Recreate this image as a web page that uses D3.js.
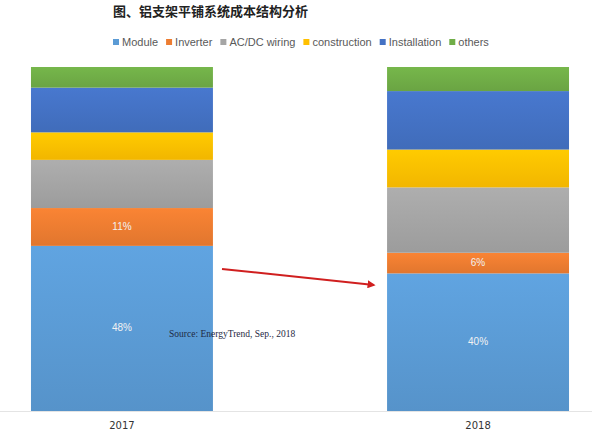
<!DOCTYPE html>
<html>
<head>
<meta charset="utf-8">
<script src="https://cdn.jsdelivr.net/npm/d3@7"></script>
<style>
  html, body { margin: 0; padding: 0; background: #fff; }
  svg { display: block; }
</style>
</head>
<body>
<svg id="chart" width="600" height="442"></svg>
<script>
// chart data
const years = ["2017", "2018"];
const seriesKeys = ["Module", "Inverter", "AC/DC wiring", "construction", "Installation", "others"];
const module2017 = 48, module2018 = 40;
const inverter = [11, 6];
const wiring = [14, 19];
const construction = [8, 11];
const installation = [13, 17];
const others = [6, 7];
const shownLabels = ["Module", "Inverter"]; // only these have visible % labels

const colors = {
    "Module": "#5b9bd5",
    "Inverter": "#ed7d31",
    "AC/DC wiring": "#a5a5a5",
    "construction": "#ffc000",
    "Installation": "#4472c4",
    "others": "#70ad47",
};

const rows = years.map((yr, i) => ({
    year: yr,
    "Module": [module2017, module2018][i],
    "Inverter": inverter[i],
    "AC/DC wiring": wiring[i],
    "construction": construction[i],
    "Installation": installation[i],
    "others": others[i],
}));

const width = 600;
const height = 442;
const marginTop = 67;
const marginBottom = 31;

const svg = d3.select("#chart");

// gradients, bars are a bit lighter on top
const defs = svg.append("defs");
seriesKeys.forEach((k, i) => {
    const c = d3.color(colors[k]);
    const g = defs.append("linearGradient")
        .attr("id", "grad" + i)
        .attr("x1", 0).attr("y1", 0).attr("x2", 0).attr("y2", 1);
    g.append("stop").attr("offset", "0%").attr("stop-color", c.brighter(0.15));
    g.append("stop").attr("offset", "100%").attr("stop-color", c.darker(0.15));
});

const x = d3.scaleBand()
    .domain(years)
    .range([0, width])
    .paddingInner(0.489)
    .paddingOuter(0.087);

const y = d3.scaleLinear()
    .domain([0, 100])
    .range([height - marginBottom, marginTop]);

const stacked = d3.stack().keys(seriesKeys)(rows);

// title
svg.append("text")
    .attr("x", 113).attr("y", 16)
    .attr("font-family", "'Noto Sans CJK SC', sans-serif")
    .attr("font-size", 13)
    .attr("font-weight", "bold")
    .attr("fill", "#222")
    .text("图、铝支架平铺系统成本结构分析");

// legend
const legend = svg.append("g")
    .attr("transform", "translate(113,43)")
    .attr("font-family", "'Liberation Sans', sans-serif")
    .attr("font-size", 11)
    .attr("fill", "#595959");
let lx = 0;
seriesKeys.forEach((k, i) => {
    const item = legend.append("g").attr("transform", `translate(${lx},0)`);
    item.append("rect")
        .attr("x", 0).attr("y", -4)
        .attr("width", 6).attr("height", 6)
        .attr("fill", colors[k]);
    const t = item.append("text")
        .attr("x", 9).attr("y", 0)
        .attr("dominant-baseline", "middle")
        .text(k);
    lx += 9 + t.node().getComputedTextLength() + 8;
});

// axis line
svg.append("line")
    .attr("x1", 0).attr("x2", 592)
    .attr("y1", y(0) + 0.5).attr("y2", y(0) + 0.5)
    .attr("stroke", "#e4e4e4");

// bars
svg.append("g")
    .selectAll("g")
    .data(stacked)
    .join("g")
    .attr("fill", (d, i) => `url(#grad${i})`)
    .selectAll("rect")
    .data(d => d)
    .join("rect")
    .attr("x", d => x(d.data.year))
    .attr("y", d => y(d[1]))
    .attr("height", d => y(d[0]) - y(d[1]))
    .attr("width", x.bandwidth());

// % labels
svg.append("g")
    .attr("font-family", "'Liberation Sans', sans-serif")
    .attr("font-size", 10)
    .attr("fill", "#f2f2f2")
    .attr("text-anchor", "middle")
    .selectAll("text")
    .data(stacked.filter(s => shownLabels.includes(s.key)).flatMap(s => s.map(d => ({d, key: s.key}))))
    .join("text")
    .attr("x", e => x(e.d.data.year) + x.bandwidth() / 2)
    .attr("y", e => y((e.d[0] + e.d[1]) / 2))
    .attr("dominant-baseline", "middle")
    .text(e => e.d.data[e.key] + "%");

// x labels
svg.append("g")
    .attr("font-family", "'DejaVu Sans', sans-serif")
    .attr("font-size", 10)
    .attr("fill", "#333")
    .attr("text-anchor", "middle")
    .selectAll("text")
    .data(years)
    .join("text")
    .attr("x", d => x(d) + x.bandwidth() / 2)
    .attr("y", height - 13)
    .text(d => d);

// red arrow
defs.append("marker")
    .attr("id", "arrowhead")
    .attr("viewBox", "0 0 10 10")
    .attr("refX", 8).attr("refY", 5)
    .attr("markerWidth", 4).attr("markerHeight", 4)
    .attr("orient", "auto")
    .append("path")
    .attr("d", "M0,0L10,5L0,10z")
    .attr("fill", "#d01f1f");
svg.append("line")
    .attr("x1", 222).attr("y1", 269)
    .attr("x2", 374).attr("y2", 285)
    .attr("stroke", "#d01f1f")
    .attr("stroke-width", 2)
    .attr("marker-end", "url(#arrowhead)");

// source
svg.append("text")
    .attr("x", 169).attr("y", 337)
    .attr("font-family", "'Liberation Serif', serif")
    .attr("font-size", 9.5)
    .attr("fill", "#1f2a44")
    .text("Source: EnergyTrend, Sep., 2018");
</script>
</body>
</html>
